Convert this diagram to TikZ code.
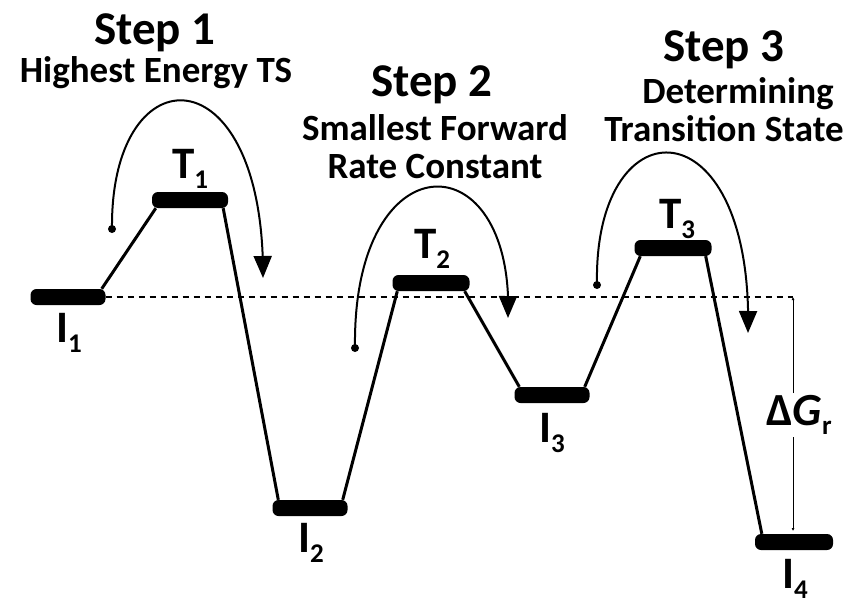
\documentclass[tikz,border=0pt]{standalone}
\usepackage{fontspec}
\setmainfont{Carlito}
\usetikzlibrary{arrows.meta,bending}
\newcommand\lvsub[1]{\raisebox{-10pt}{\fontsize{27}{27}\selectfont #1}}
\begin{document}
\begin{tikzpicture}[x=1pt,y=-1pt,
  bar/.style={fill=black, rounded corners=6pt, minimum height=16pt, inner sep=0pt},
  conn/.style={line width=3pt},
  jump/.style={line width=2pt, -{Triangle[length=22pt,width=18pt]}},
  dotstart/.style={fill=black, circle, inner sep=0pt, minimum size=8pt},
  lvl/.style={font=\fontsize{45}{45}\selectfont\bfseries, inner sep=0pt, anchor=base},
  title/.style={font=\fontsize{47}{47}\selectfont\bfseries, inner sep=0pt, anchor=base},
  subt/.style={font=\fontsize{37}{37}\selectfont\bfseries, inner sep=0pt, anchor=base},
  refline/.style={line width=1.5pt, dash pattern=on 6pt off 5pt},
  gapline/.style={line width=1pt},
]
\useasboundingbox (0,0) rectangle (856,599);
\fill[white] (0,0) rectangle (856,599);

% energy levels
\node[bar, minimum width=75pt] (I1) at (68,297) {};
\node[bar, minimum width=76pt] (T1) at (190,200) {};
\node[bar, minimum width=75pt] (I2) at (310,508) {};
\node[bar, minimum width=77pt] (T2) at (431,283) {};
\node[bar, minimum width=75pt] (I3) at (552,395) {};
\node[bar, minimum width=77pt] (T3) at (673,248) {};
\node[bar, minimum width=78pt] (I4) at (794,542) {};

% connectors
\draw[conn] ([xshift=-4pt]I1.north east) -- ([xshift=4pt]T1.south west);
\draw[conn] ([xshift=-5pt]T1.south east) -- ([xshift=6pt]I2.north west);
\draw[conn] ([xshift=-5pt]I2.north east) -- ([xshift=5pt]T2.south west);
\draw[conn] ([xshift=-5pt]T2.south east) -- ([xshift=5pt]I3.north west);
\draw[conn] ([xshift=-5pt]I3.north east) -- ([xshift=6pt]T3.south west);
\draw[conn] ([xshift=-6pt]T3.south east) -- ([xshift=7pt]I4.north west);

% level labels
\node[lvl] (lI1) at (69,342) {I\lvsub{1}};
\node[lvl] (lT1) at (190,178) {T\lvsub{1}};
\node[lvl] (lI2) at (311,552) {I\lvsub{2}};
\node[lvl] (lT2) at (432,258) {T\lvsub{2}};
\node[lvl] (lI3) at (552,442) {I\lvsub{3}};
\node[lvl] (lT3) at (677,228) {T\lvsub{3}};
\node[lvl] (lI4) at (795,588) {I\lvsub{4}};

% reference line and Delta G
\coordinate (rtop) at (793,297);
\coordinate (rbot) at (793,531);
\draw[refline] (I1.east) -- (rtop);
\node[font=\fontsize{46}{46}\selectfont\bfseries, inner sep=0pt] (dG) at (799,415) {Δ\textit{G}\raisebox{-9pt}{\fontsize{27}{27}\selectfont r}};
\draw[gapline, -{Latex[length=3pt,width=3pt]}] (rtop |- 0,393) -- (rtop);
\draw[gapline, -{Latex[length=3pt,width=3pt]}] (rtop |- 0,437) -- (rbot);

% step arrows
\node[dotstart] (d1) at (112,229) {};
\coordinate (e1) at (263,278);
\draw[jump] (d1.center) .. controls (110,50) and (265,50) .. (e1);
\node[dotstart] (d2) at (355,348) {};
\coordinate (e2) at (508,318);
\draw[jump] (d2.center) .. controls (352,138) and (515,138) .. (e2);
\node[dotstart] (d3) at (597,285) {};
\coordinate (e3) at (748,333);
\draw[jump] (d3.center) .. controls (593,101) and (754,101) .. (e3);

% titles
\node[title] (s1) at (155,45) {Step 1};
\node[subt] (s1a) at (156,83) {Highest Energy TS};
\node[title] (s2) at (432,97) {Step 2};
\node[subt] (s2a) at (435,140) {Smallest Forward};
\node[subt] (s2b) at (435,178) {Rate Constant};
\node[title] (s3) at (724,62) {Step 3};
\node[subt] (s3a) at (738,103) {Determining};
\node[subt] (s3b) at (724,142) {Transition State};
\end{tikzpicture}
\end{document}
